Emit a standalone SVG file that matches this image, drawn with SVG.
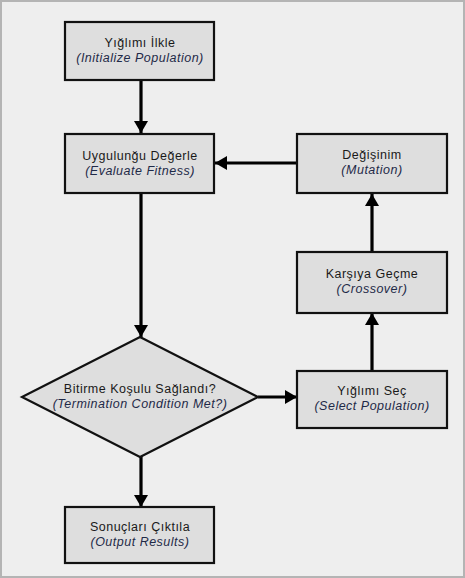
<svg xmlns="http://www.w3.org/2000/svg" width="465" height="578" viewBox="0 0 465 578">
<defs>
<style>
.node rect, .node polygon { fill: #dedede; stroke: #111; stroke-width: 2.2; }
.t1 { font-family: "Liberation Sans", Arial, sans-serif; font-size: 12.5px; letter-spacing: 0.5px; fill: #1a1a1a; text-anchor: middle; }
.t2 { font-family: "Liberation Sans", Arial, sans-serif; font-size: 12.5px; letter-spacing: 0.5px; font-style: italic; fill: #1f2a48; text-anchor: middle; }
.conn line { stroke: #000; stroke-width: 3.2; marker-end: url(#ah); }
</style>
<marker id="ah" markerUnits="userSpaceOnUse" markerWidth="16" markerHeight="14" refX="12" refY="7" orient="auto">
<path d="M0,0 L12,7 L0,14 Z" fill="#000"/>
</marker>
</defs>
<rect x="1" y="1" width="463" height="576" fill="#eeeeee" stroke="#b4b4b4" stroke-width="2"/>
<g id="connectors" class="conn">
<line x1="141" y1="81" x2="141" y2="133"/>
<line x1="141" y1="194" x2="141" y2="337"/>
<line x1="141" y1="456" x2="141" y2="507"/>
<line x1="258" y1="397" x2="297" y2="397"/>
<line x1="372" y1="371" x2="372" y2="313"/>
<line x1="372" y1="252" x2="372" y2="194"/>
<line x1="297" y1="163" x2="215" y2="163"/>
</g>
<g id="init" class="node">
<rect x="65" y="22" width="149" height="58"/>
<text class="t1" x="140" y="47">Yığlımı İlkle</text>
<text class="t2" x="140" y="62">(Initialize Population)</text>
</g>
<g id="evaluate" class="node">
<rect x="65" y="134" width="149" height="59"/>
<text class="t1" x="140" y="160">Uygulunğu Değerle</text>
<text class="t2" x="140" y="175">(Evaluate Fitness)</text>
</g>
<g id="mutation" class="node">
<rect x="297" y="134" width="150" height="59"/>
<text class="t1" x="372" y="159">Değişinim</text>
<text class="t2" x="372" y="174">(Mutation)</text>
</g>
<g id="crossover" class="node">
<rect x="297" y="252" width="150" height="61"/>
<text class="t1" x="372" y="278">Karşıya Geçme</text>
<text class="t2" x="372" y="293">(Crossover)</text>
</g>
<g id="termination" class="node">
<polygon points="140,337 258,397 140,457 22,397"/>
<text class="t1" x="140" y="393">Bitirme Koşulu Sağlandı?</text>
<text class="t2" x="140" y="408">(Termination Condition Met?)</text>
</g>
<g id="select" class="node">
<rect x="297" y="371" width="150" height="57"/>
<text class="t1" x="372" y="395">Yığlımı Seç</text>
<text class="t2" x="372" y="410">(Select Population)</text>
</g>
<g id="output" class="node">
<rect x="65" y="507" width="149" height="56"/>
<text class="t1" x="140" y="531">Sonuçları Çıktıla</text>
<text class="t2" x="140" y="546">(Output Results)</text>
</g>
</svg>
